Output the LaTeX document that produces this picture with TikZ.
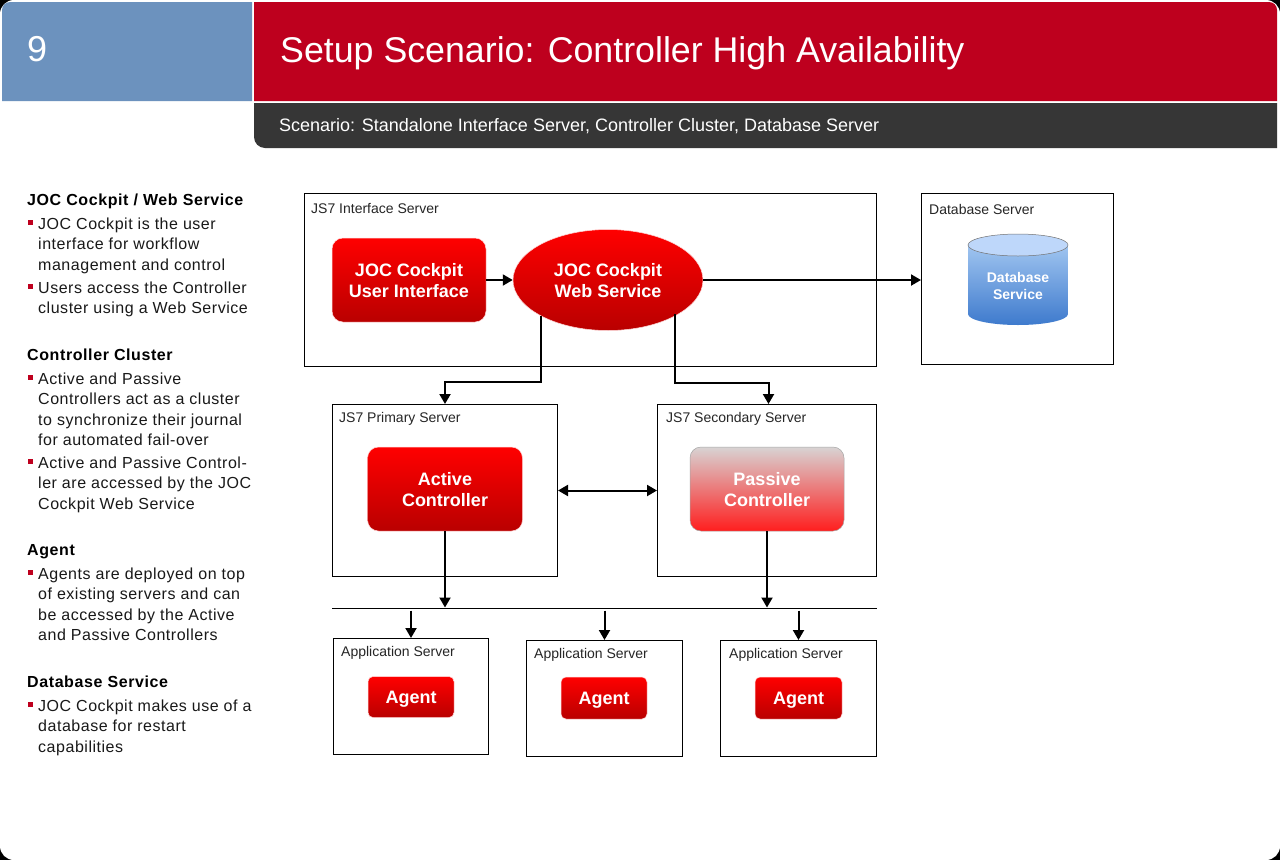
\documentclass[tikz,border=0pt]{standalone}
\usepackage{fontspec}
\setmainfont{Liberation Sans}
\newfontfamily\bodyspaced[LetterSpace=3.3]{Liberation Sans}
\newfontfamily\headspaced[LetterSpace=3.7]{Liberation Sans}
\usetikzlibrary{shapes.geometric,arrows.meta,calc}
\definecolor{hdrblue}{RGB}{108,146,190}
\definecolor{hdrred}{RGB}{190,0,30}
\definecolor{hdrdark}{RGB}{54,54,54}
\definecolor{bulletred}{RGB}{190,0,30}
\definecolor{redtop}{RGB}{255,0,0}
\definecolor{redbot}{RGB}{185,0,0}
\definecolor{dbtop}{RGB}{160,197,240}
\definecolor{dbbot}{RGB}{62,122,205}
\definecolor{dbcap}{RGB}{190,215,250}
\definecolor{passgrey}{RGB}{216,211,211}
\definecolor{passmid}{RGB}{236,165,165}
\definecolor{passred}{RGB}{255,30,30}
\tikzset{
  x=1pt,y=-1pt,
  box/.style={draw=black,line width=1pt,fill=white,minimum width=#1,inner sep=0pt,anchor=north west},
  boxlabel/.style={anchor=west,inner sep=0pt,font=\fontsize{14}{16}\selectfont,text=black!85},
  redbox/.style={rounded corners=11pt,draw=white!85!red,line width=.5pt,top color=redtop,bottom color=redbot,text=white,align=center,inner sep=0pt,font=\fontsize{18}{21}\selectfont\bfseries},
  conn/.style={draw=black,line width=2pt,-{Triangle[length=10pt,width=11pt]}},
  heading/.style={anchor=west,inner sep=0pt,font=\fontsize{16}{20}\headspaced\bfseries},
  para/.style={anchor=north west,inner sep=0pt,align=left,font=\fontsize{16}{20.4}\bodyspaced,text=black!90},
}
\newcommand{\bul}[2]{\fill[bulletred] (28,#1-4.5) rectangle (33,#1+0.5); \node[para] at (38,#1-6.5) {#2};}
\newcommand{\dn}[2]{\raisebox{-#1pt}[\height][\depth]{#2}}
\begin{document}
\begin{tikzpicture}
\useasboundingbox (0,0) rectangle (1280,860);
\fill[black] (0,0) rectangle (1280,860);
\fill[white,rounded corners=14pt] (0,0) rectangle (1280,860);
% header
\fill[hdrblue] (252,2) -- (252,101) -- (2,101) [rounded corners=8pt] -- (2,2) [sharp corners] -- cycle;
\fill[hdrred] (254,101) -- (254,2) [rounded corners=8pt] -- (1277,2) [sharp corners] -- (1277,101) -- cycle;
\fill[hdrdark] (1277,103) -- (1277,148) [rounded corners=11pt] -- (254,148) [sharp corners] -- (254,103) -- cycle;
\node[anchor=west,inner sep=0pt,text=white,font=\fontsize{36}{40}\selectfont] (num) at (27,49) {9};
\node[anchor=west,inner sep=0pt,text=white,font=\fontsize{35.75}{40}\selectfont] (title) at (280,53) {Setup Scenario: Controller High Availability};
\node[anchor=west,inner sep=0pt,text=white,font=\fontsize{18}{22}\selectfont] (sub) at (279,126.5) {Scenario: Standalone Interface Server, Controller Cluster, Database Server};
% left text
\node[heading] (h1) at (27,201) {JOC Cockpit / Web Service};
\bul{224}{JOC Cockpit is the user\\interface for workflow\\management and control}
\bul{288}{Users access the Controller\\cluster using a Web Service}
\node[heading] (h2) at (27,355) {Controller Cluster};
\bul{379}{Active and Passive\\Controllers act as a cluster\\to synchronize their journal\\for automated fail-over}
\bul{463}{Active and Passive Control-\\ler are accessed by the JOC\\Cockpit Web Service}
\node[heading] (h3) at (27,552) {Agent};
\bul{574}{Agents are deployed on top\\of existing servers and can\\be accessed by the Active\\and Passive Controllers}
\node[heading] (h4) at (27,682) {Database Service};
\bul{706}{JOC Cockpit makes use of a\\database for restart\\capabilities}
% boxes
\node[box=572pt,minimum height=173pt] (ifbox) at (304,193) {};
\node[boxlabel] at (311,208) {JS7 Interface Server};
\node[box=192pt,minimum height=171pt] (dbbox) at (921,193) {};
\node[boxlabel] at (929,209) {Database Server};
\node[box=225pt,minimum height=172pt] (pbox) at (332,404) {};
\node[boxlabel] at (339,418.5) {JS7 Primary Server};
\node[box=219pt,minimum height=172pt] (sbox) at (657,404) {};
\node[boxlabel] at (666,418.5) {JS7 Secondary Server};
\node[box=155pt,minimum height=116pt] (a1box) at (333,638) {};
\node[boxlabel] at (341,652.5) {Application Server};
\node[box=156pt,minimum height=116pt] (a2box) at (526,640) {};
\node[boxlabel] at (534,654.5) {Application Server};
\node[box=156pt,minimum height=116pt] (a3box) at (720,640) {};
\node[boxlabel] at (729,654.5) {Application Server};
% service nodes
\node[redbox,minimum width=154pt,minimum height=84pt] (ui) at (409,280) {\dn{1}{JOC Cockpit}\\\dn{1}{User Interface}};
\node[ellipse,redbox,rounded corners=0pt,minimum width=190pt,minimum height=101pt] (web) at (608,280) {\dn{1}{JOC Cockpit}\\\dn{1}{Web Service}};
\node[redbox,minimum width=155pt,minimum height=84pt] (active) at (445,489) {\dn{1}{Active}\\\dn{1}{Controller}};
\node[redbox,draw=black!35,top color=passgrey,middle color=passmid,bottom color=passred,minimum width=154pt,minimum height=84pt] (passive) at (767,489) {\dn{1}{Passive}\\\dn{1}{Controller}};
\node[redbox,rounded corners=5pt,minimum width=86pt,minimum height=41pt] (ag1) at (411,697) {\dn{2}{Agent}};
\node[redbox,rounded corners=5pt,minimum width=86pt,minimum height=42pt] (ag2) at (604,698) {\dn{2.5}{Agent}};
\node[redbox,rounded corners=5pt,minimum width=87pt,minimum height=42pt] (ag3) at (798.5,698) {\dn{2.5}{Agent}};
% database cylinder
\shade[top color=dbtop,bottom color=dbbot] (968,245) -- (968,314) arc[start angle=180,end angle=360,x radius=50,y radius=-11] -- (1068,245) -- cycle;
\filldraw[fill=dbcap,draw=black!55,line width=.5pt] (1018,245) ellipse[x radius=50,y radius=11];
\node[inner sep=0pt,align=center,text=white,font=\fontsize{14}{17}\selectfont\bfseries] (dbs) at (1018,285.5) {Database\\Service};
% bus
\coordinate (busL) at (332,608.5);
\coordinate (busR) at (877,608.5);
\draw[black,line width=1pt] (busL) -- (busR);
% connectors
\coordinate (w1) at (541,316);
\coordinate (w2) at (675,314);
\coordinate (w1turn) at (541,382);
\coordinate (w2turn) at (675,383);
\coordinate (s2) at ([xshift=1.5pt]sbox.north);
\draw[conn] (ui.east) -- (web.west);
\draw[conn] (web.east) -- (dbbox.west |- web.east);
\draw[conn] (w1) -- (w1turn) -- (pbox.north |- w1turn) -- (pbox.north);
\draw[conn] (w2) -- (w2turn) -- (s2 |- w2turn) -- (s2);
\draw[conn,{Triangle[length=10pt,width=11pt]}-{Triangle[length=10pt,width=11pt]}] (pbox.east) -- (sbox.west);
\draw[conn] (active.south) -- ([yshift=1pt]active.south |- busL);
\draw[conn] (passive.south) -- ([yshift=1pt]passive.south |- busL);
\draw[conn] ([yshift=-2pt]a1box.north |- busL) -- (a1box.north);
\draw[conn] ([yshift=-2pt]a2box.north |- busL) -- (a2box.north);
\draw[conn] ([yshift=-2pt]a3box.north |- busL) -- (a3box.north);
\end{tikzpicture}
\end{document}
